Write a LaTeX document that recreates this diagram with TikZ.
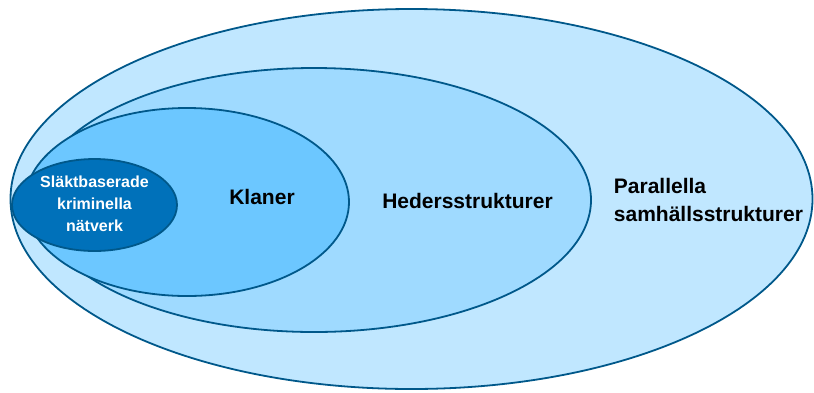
\documentclass[tikz,border=0pt]{standalone}
\usepackage{fontspec}
\setmainfont{Liberation Sans}
\usetikzlibrary{positioning}

\definecolor{rimblue}{HTML}{00588A}
\definecolor{outerfill}{HTML}{C0E7FF}
\definecolor{hedersfill}{HTML}{9FDAFF}
\definecolor{klanfill}{HTML}{6CC7FF}
\definecolor{slaktfill}{HTML}{0071BA}

\begin{document}
\begin{tikzpicture}[x=1pt,y=-1pt,line width=1.8pt]
	\tikzstyle{ring}=[draw=rimblue]
	\tikzstyle{biglabel}=[inner sep=0pt,font=\fontsize{21}{28}\selectfont\bfseries]

	\useasboundingbox (0,0) rectangle (814,392);

	% rings, outermost first
	\filldraw[ring,fill=outerfill] (411.5,199) ellipse [x radius=401,y radius=190];
	\filldraw[ring,fill=hedersfill] (314,200) ellipse [x radius=277,y radius=132];
	\filldraw[ring,fill=klanfill] (187,202) ellipse [x radius=162,y radius=94];
	\filldraw[ring,fill=slaktfill] (94.5,205) ellipse [x radius=82.5,y radius=46];

	% labels
	\node[biglabel] (klaner) at (262,197) {Klaner};
	\node[biglabel] (heders) at (467.5,201) {Hedersstrukturer};
	\node[biglabel,align=left,anchor=west] (parallella) at (613,199.5) {Parallella\\samhällsstrukturer};
	\node[inner sep=0pt,align=center,text=white,font=\fontsize{16}{22}\selectfont\bfseries] (slakt) at (94.5,203.5) {Släktbaserade\\kriminella\\nätverk};
\end{tikzpicture}
\end{document}
